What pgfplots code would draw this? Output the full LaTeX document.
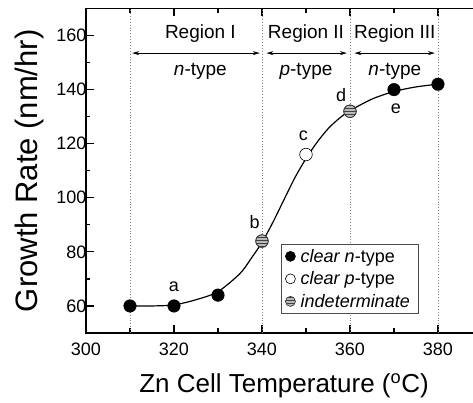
\documentclass[border=0pt]{standalone}
\usepackage{pgfplots}
\pgfplotsset{compat=1.18}
\usepackage{fontspec}
\setmainfont{Liberation Sans}
\usetikzlibrary{patterns,arrows.meta}
\begin{document}
\begin{tikzpicture}
\clip (-86pt,-70pt) rectangle (387pt,333pt);
\begin{axis}[
  scale only axis, width=396pt, height=324.5pt,
  xmin=300, xmax=390, ymin=50, ymax=170,
  xtick={300,320,...,380}, ytick={60,80,...,160},
  minor x tick num=1, minor y tick num=1,
  tick align=inside,
  major tick length=8pt, minor tick length=4.5pt,
  axis line style={line width=1.5pt},
  every tick/.style={line width=1.2pt,black},
  tick label style={font=\fontsize{18}{21}\selectfont},
  xticklabel style={yshift=-6pt},
  yticklabel style={xshift=4pt},
  /pgf/number format/assume math mode=true,
  xlabel={Zn Cell Temperature (\textsuperscript{o}C)},
  ylabel={Growth Rate (nm/hr)},
  xlabel style={font=\fontsize{26}{30}\selectfont, yshift=-12pt},
  ylabel style={font=\fontsize{31}{36}\selectfont, yshift=6pt},
  legend style={at={(rel axis cs:0.492,0.0586)}, anchor=south west, draw=black!70, line width=0.6pt,
    font=\fontsize{18}{21}\selectfont, row sep=4pt, fill=white, inner xsep=4pt, inner ysep=3pt,
    nodes={inner xsep=5pt}},
  legend cell align=left,
  legend image post style={mark size=5pt},
  clip=false,
]
\foreach \xx in {310,340,360,380}{
  \edef\tmp{\noexpand\draw[gray, dotted, line width=0.9pt] (axis cs:\xx,50) -- (axis cs:\xx,170);}\tmp
}
\addplot[smooth, line width=1.2pt, forget plot] coordinates {
(310,60.0)(315,60.0)(320,60.4)(325,62.3)(330,65.3)(335,72)(337.5,77.5)(340,83.5)(342.5,91)(345,99.3)(347.5,107.5)
(350,114.5)(352.5,120.5)(355,125.5)(357.5,129.3)(360,132.2)(365,136.5)(370,139.3)(375,141)(380,142)};
\addplot[only marks, mark=*, mark size=6.3pt, mark options={fill=black, draw=black}] coordinates {(310,60)(320,60)(330,64)(370,140)(380,142)};
\addlegendentry{\textit{clear n}-type}
\addplot[only marks, mark=*, mark size=6.3pt, mark options={fill=white, draw=black, line width=0.6pt}] coordinates {(350,116)};
\addlegendentry{\textit{clear p}-type}
\addplot[only marks, mark=*, mark size=6.3pt, mark options={fill=gray!55, draw=black!80, line width=0.6pt},
  legend image code/.code={
    \fill[gray!55] (0.3cm,0) circle (5pt);
    \draw[pattern=horizontal lines, pattern color=black!75, draw=black!80, line width=0.6pt] (0.3cm,0) circle (5pt);}
  ] coordinates {(340,84)(360,132)};
\addlegendentry{\textit{indeterminate}}
\addplot[only marks, mark=*, mark size=6.3pt, forget plot, mark options={pattern=horizontal lines, pattern color=black!75, draw=black!80, line width=0.6pt}] coordinates {(340,84)(360,132)};
\draw[{Stealth[length=7pt,width=4pt]}-{Stealth[length=7pt,width=4pt]}, line width=0.8pt] (axis cs:310.5,153.5) -- (axis cs:339.5,153.5);
\draw[{Stealth[length=7pt,width=4pt]}-{Stealth[length=7pt,width=4pt]}, line width=0.8pt] (axis cs:341,153.5) -- (axis cs:359.3,153.5);
\draw[{Stealth[length=7pt,width=4pt]}-{Stealth[length=7pt,width=4pt]}, line width=0.8pt] (axis cs:361,153.5) -- (axis cs:379.3,153.5);
\node[font=\fontsize{19}{22}\selectfont] at (axis cs:326,160.7) {Region I};
\node[font=\fontsize{19}{22}\selectfont] at (axis cs:350,160.7) {Region II};
\node[font=\fontsize{19}{22}\selectfont] at (axis cs:370.2,160.7) {Region III};
\node[font=\fontsize{19}{22}\selectfont] at (axis cs:326,146.7) {\textit{n}-type};
\node[font=\fontsize{19}{22}\selectfont] at (axis cs:350,146.7) {\textit{p}-type};
\node[font=\fontsize{19}{22}\selectfont] at (axis cs:370.2,146.7) {\textit{n}-type};
\node[font=\fontsize{18}{21}\selectfont] at (axis cs:320,67) {a};
\node[font=\fontsize{18}{21}\selectfont] at (axis cs:338.3,91) {b};
\node[font=\fontsize{18}{21}\selectfont] at (axis cs:349.4,123) {c};
\node[font=\fontsize{18}{21}\selectfont] at (axis cs:358,138) {d};
\node[font=\fontsize{18}{21}\selectfont] at (axis cs:370.4,133) {e};
\end{axis}
\end{tikzpicture}
\end{document}
